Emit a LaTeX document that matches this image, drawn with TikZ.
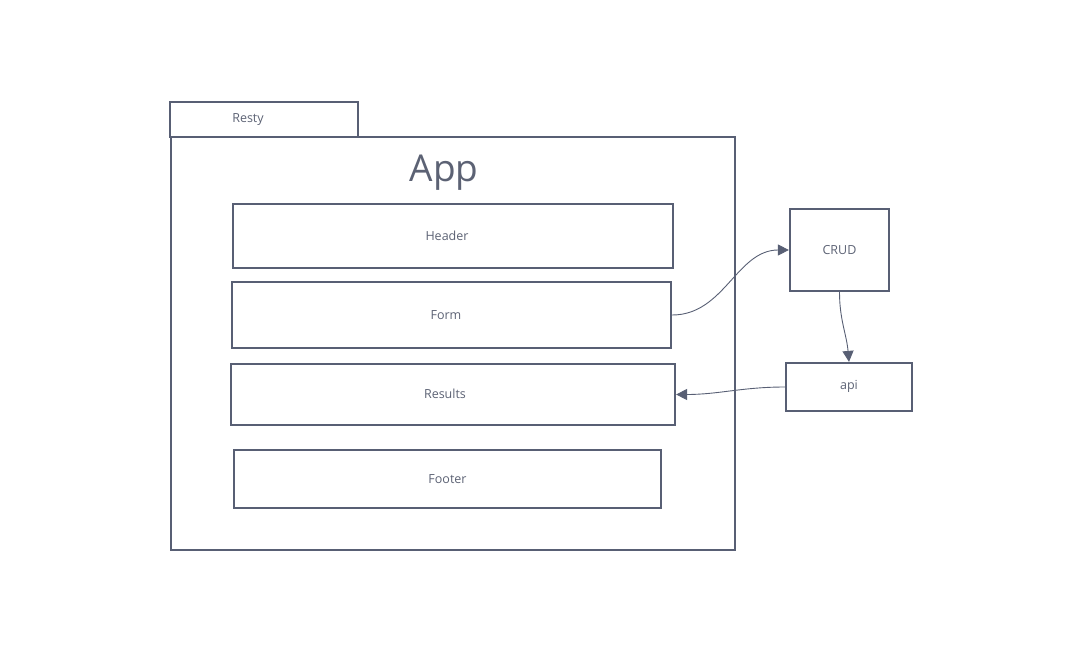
\documentclass[tikz,border=0pt]{standalone}
\usepackage{fontspec}
\setmainfont{Open Sans}
\usepackage{tikz}
\usetikzlibrary{arrows.meta,positioning}
\definecolor{slate}{RGB}{88,95,116}
\definecolor{slatetext}{RGB}{92,98,116}

\begin{document}
\begin{tikzpicture}[x=1pt,y=-1pt,
    box/.style={draw=slate,line width=2.2pt,inner sep=0pt,text=slatetext,font=\fontsize{12.5}{14}\selectfont},
    link/.style={draw=slate,line width=0.9pt,-{Triangle[length=11pt,width=11pt]}}]
    \useasboundingbox (0,0) rectangle (1082,653);
    \node[box,minimum width=564pt,minimum height=413pt] (app)    at (453,343.5) {};
    \node[box,minimum width=188pt,minimum height=35pt]  (resty)  at (264,119.5) {\hspace*{-32pt}\raisebox{-2pt}{Resty}};
    \node[text=slatetext,font=\fontsize{37}{44}\selectfont] (app_t) at (444,173) {App};
    \node[box,minimum width=440pt,minimum height=64pt]  (header) at (453,236)   {\hspace*{-12pt}\raisebox{1pt}{Header}};
    \node[box,minimum width=439pt,minimum height=66pt]  (form)   at (451.5,315) {\hspace*{-11pt}Form};
    \node[box,minimum width=444pt,minimum height=61pt]  (results) at (453,394.5) {\hspace*{-16pt}\raisebox{2pt}{Results}};
    \node[box,minimum width=427pt,minimum height=58pt]  (footer) at (447.5,479) {Footer};
    \node[box,minimum width=99pt,minimum height=82pt]   (crud)   at (839.5,250) {CRUD};
    \node[box,minimum width=126pt,minimum height=48pt]  (api)    at (849,387)   {\raisebox{4pt}{api}};
    \path
    (form.east)    edge [link,out=0,in=180] (crud.west)
    (crud.south)   edge [link,out=-90,in=95] (api.north)
    (api.west)     edge [link,out=180,in=0] (results.east);
\end{tikzpicture}
\end{document}
